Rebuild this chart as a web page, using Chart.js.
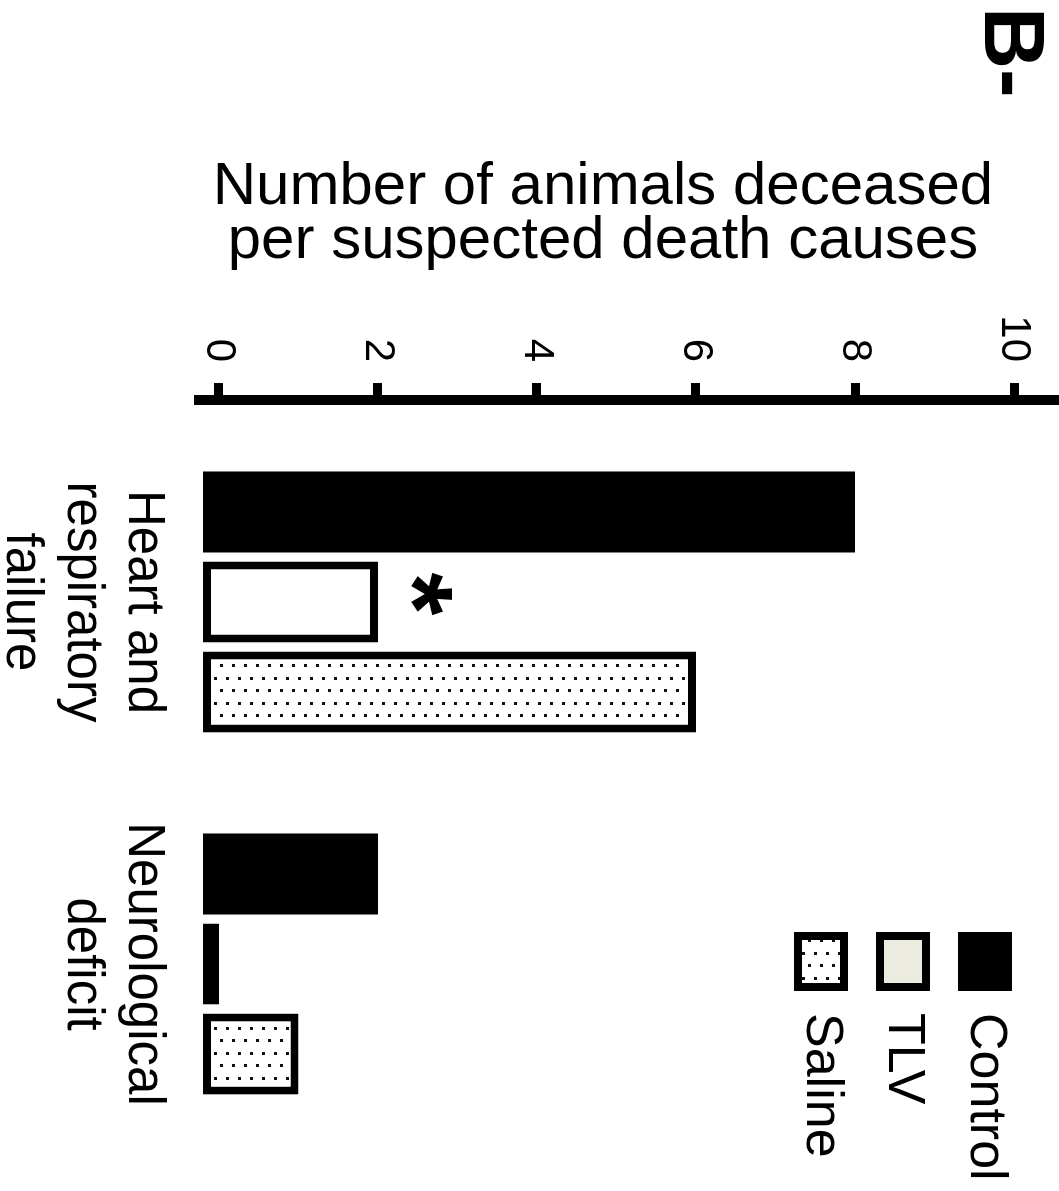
<!DOCTYPE html>
<html>
<head>
<meta charset="utf-8">
<script src="https://cdn.jsdelivr.net/npm/chart.js@4.4.1/dist/chart.umd.min.js"></script>
<style>
	html, body { margin: 0; padding: 0; background: #fff; overflow: hidden; }
	/* the figure is drawn upright and then turned a quarter clockwise */
	#wrap {
		position: absolute; left: 0; top: 0;
		width: 1191px; height: 1059px;
		transform-origin: 0 0;
		transform: translate(1059px, 0) rotate(90deg);
	}
</style>
</head>
<body>
<div id="wrap"><canvas id="bChart" width="1191" height="1059"></canvas></div>
<script>
const causes = [["Heart and", "respiratory", "failure"], ["Neurological", "deficit"]];
const causePos = [0, 1];
const groups = ["Control", "TLV", "Saline"];
const controlVals = [8, 2];
const tlvVals = [2, 0];
const salineVals = [6, 1];
const valueTicks = [0, 2, 4, 6, 8, 10];
const axisTitle = ["Number of animals deceased", "per suspected death causes"];
const panelLabel = "B-";
const starMark = "*";

const canvas = document.getElementById("bChart");
const ctx = canvas.getContext("2d");

// dotted fill used for the saline bars
function dotPattern() {
	const c = document.createElement("canvas");
	c.width = 25;
	c.height = 12;
	const g = c.getContext("2d");
	g.fillStyle = "#fff";
	g.fillRect(0, 0, 25, 12);
	g.fillStyle = "#111";
	g.fillRect(2, 2, 3, 3);
	g.fillRect(14, 8, 3, 3);
	return ctx.createPattern(c, "repeat");
}
const dots = dotPattern();

const pts = (vals) => vals.map((v, i) => ({ x: causePos[i], y: v }));

const extras = {
	id: "extras",
	afterLayout(chart) {
		chart.legend.left = 906;
		chart.legend.top = 18;
	},
	afterDatasetsDraw(chart) {
		const bar = chart.getDatasetMeta(1).data[0];
		const c = chart.ctx;
		c.save();
		c.fillStyle = "#000";
		c.textBaseline = "alphabetic";
		c.font = "bold 110px 'Liberation Sans', Arial, sans-serif";
		c.textAlign = "center";
		c.fillText(starMark, bar.x - 8, bar.y + 1);
		c.font = "bold 86px 'Liberation Sans', Arial, sans-serif";
		c.textAlign = "left";
		c.fillText(panelLabel, 7, 74);
		c.restore();
	},
};

Chart.defaults.font.family = "'Liberation Sans', Arial, sans-serif";
Chart.defaults.color = "#000";

const barStyle = {
	borderColor: "#000",
	borderWidth: 8,
	borderSkipped: false,
	base: -0.2,
	categoryPercentage: 0.746,
	barPercentage: 0.9,
};

const myChart = new Chart(ctx, {
	type: "bar",
	data: {
		datasets: [
			{ label: groups[0], data: pts(controlVals), ...barStyle, backgroundColor: "#000", borderWidth: 0 },
			{ label: groups[1], data: pts(tlvVals), ...barStyle, backgroundColor: "#fff" },
			{ label: groups[2], data: pts(salineVals), ...barStyle, backgroundColor: dots },
		],
	},
	options: {
		responsive: false,
		animation: false,
		layout: { padding: { top: 2, left: 0, right: 0, bottom: 0 } },
		plugins: {
			tooltip: { enabled: false },
			legend: {
				position: "chartArea",
				align: "start",
				labels: {
					boxWidth: 51,
					boxHeight: 46,
					padding: 30,
					font: { size: 52 },
					color: "#000",
					generateLabels(chart) {
						const items = Chart.defaults.plugins.legend.labels.generateLabels(chart);
						items[0].lineWidth = 8;
						items[0].strokeStyle = "#000";
						items[1].fillStyle = "#ecebe0";
						return items;
					},
				},
			},
		},
		scales: {
			x: {
				type: "linear",
				offset: false,
				min: -0.558,
				max: 1.627,
				afterBuildTicks: (s) => { s.ticks = causePos.map((v) => ({ value: v })); },
				afterFit: (s) => {
					s.height = 199;
					s.paddingLeft = 0;
					s.paddingRight = 0;
				},
				grid: { display: false, drawTicks: false, offset: false },
				border: { display: false },
				ticks: {
					font: { size: 51, lineHeight: 1.2 },
					padding: 25,
					maxRotation: 0,
					autoSkip: false,
					callback: (v, i) => causes[i],
				},
			},
			y: {
				min: -0.25,
				max: 10.54,
				afterBuildTicks: (s) => { s.ticks = valueTicks.map((v) => ({ value: v })); },
				afterFit: (s) => {
					s.width = 400;
					s.paddingTop = 0;
					s.paddingBottom = 0;
				},
				border: { display: true, width: 10, color: "#000" },
				grid: {
					drawOnChartArea: false,
					drawTicks: true,
					tickLength: 17,
					tickWidth: 9,
					tickColor: "#000",
					color: "#000",
					lineWidth: 9,
				},
				ticks: { font: { size: 42 }, padding: 21 },
				title: {
					display: true,
					text: axisTitle.map((t) => t + "   "),
					font: { size: 60, lineHeight: 0.9 },
					padding: { top: 160, bottom: 0 },
				},
			},
		},
	},
	plugins: [extras],
});
</script>
</body>
</html>
